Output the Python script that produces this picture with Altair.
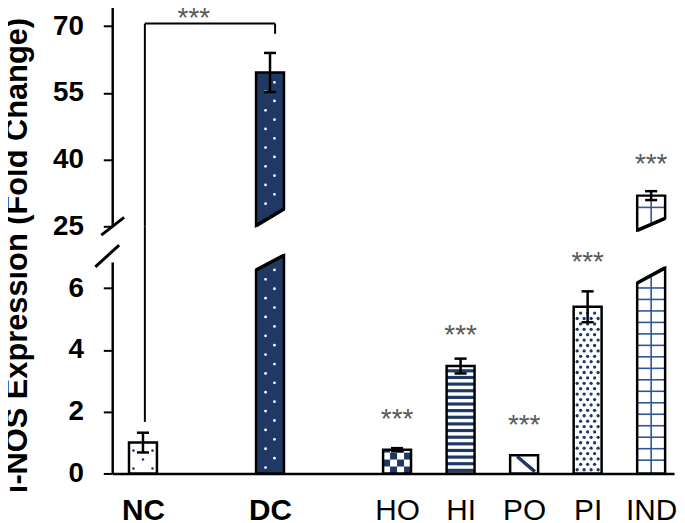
import altair as alt
import pandas as pd
import numpy as np

# ---------------- data ----------------
groups = ["NC", "DC", "HO", "HI", "PO", "PI", "IND"]
slot = [0, 2, 4, 5, 6, 7, 8]            # category slot on the x axis
mean = [1.00, 59.6, 0.77, 3.48, 0.59, 5.40, 31.9]
err = [0.32, 4.4, 0.05, 0.24, 0.0, 0.50, 1.0]
star_group = ["HO", "HI", "PO", "PI", "IND"]
star_y = [1.48, 4.18, 1.29, 6.56, 37.1]
sig_label = "***"
# NC vs DC bracket
bracket_top = 70.6
bracket_left_end = 1.67
bracket_right_end = 68.3
bracket_star_x = 0.8
bracket_star_y = 69.8
# broken axis
low_ticks = [0, 2, 4, 6]
up_ticks = [25, 40, 55, 70]
low_dom = [0, 6.85]
up_dom = [25, 74.8]
broken = ["DC", "IND"]
cut_low = {"DC": (6.59, 7.07), "IND": (6.17, 6.66)}   # slanted top of lower piece (left, right)
cut_up = {"DC": (25.1, 28.9), "IND": (24.1, 26.8)}    # slanted bottom of upper piece
y_title = "i-NOS Expression (Fold Change)"

# ---------------- style ----------------
NAVY = "#1F3864"
LINE_BLUE = "#2F5597"
STAR = "#595959"
FONT = "Liberation Sans"
HALF = 0.22
CAP = 0.095
W, H_UP, H_LOW, GAP = 566, 223, 213, 36

pos = dict(zip(groups, slot))
val = dict(zip(groups, mean))
er = dict(zip(groups, err))

xscale = alt.Scale(domain=[-0.484, 8.36], nice=False, zero=False)
ylow = alt.Scale(domain=low_dom, nice=False, zero=False)
yup = alt.Scale(domain=up_dom, nice=False, zero=False)

lab_arr = [""] * (max(slot) + 1)
for g, s in zip(groups, slot):
    lab_arr[s] = g
label_expr = "[" + ",".join(f"'{t}'" for t in lab_arr) + "][datum.value]"

XAX_LOW = alt.Axis(values=slot, labelExpr=label_expr, ticks=False, labelFontSize=30,
                   labelFont=FONT, labelColor="black",
                   labelFontWeight={"condition": {"test": "datum.value <= 2", "value": "bold"}, "value": "normal"},
                   labelPadding=22, domainColor="black", domainWidth=2.5, grid=False, title=None,
                   labelFlush=False, labelOverlap=False)
YAX_LOW = alt.Axis(values=low_ticks, tickSize=9, tickWidth=2, tickColor="black", domainColor="black",
                   domainWidth=2.5, labelFontSize=28, labelFont=FONT, labelFontWeight="bold",
                   labelPadding=20, labelColor="black", grid=False, title=y_title,
                   titleFontSize=31, titleFont=FONT, titleFontWeight="bold", titleColor="black",
                   titleX=-86, titleY=-7, titleBaseline="alphabetic", titleAngle=270)
YAX_UP = alt.Axis(values=up_ticks, tickSize=9, tickWidth=2, tickColor="black", domainColor="black",
                  domainWidth=2.5, labelFontSize=28, labelFont=FONT, labelFontWeight="bold",
                  labelPadding=20, labelColor="black", grid=False, title=None)


def X(f, low):
    return alt.X(f"{f}:Q", scale=xscale, axis=XAX_LOW if low else None)


def Y(f, low):
    return alt.Y(f"{f}:Q", scale=ylow if low else yup, axis=YAX_LOW if low else YAX_UP)


def rules(df, low, color="black", width=2.5):
    return alt.Chart(df).mark_rule(color=color, strokeWidth=width).encode(
        x=X("x", low), x2="x2:Q", y=Y("y", low), y2="y2:Q")


def points(df, low, color, size):
    return alt.Chart(df).mark_circle(color=color, size=size, opacity=1).encode(
        x=X("x", low), y=Y("y", low))


# ---------------- lower panel ----------------
normal = [g for g in groups if g not in broken]
bars_low = pd.DataFrame({"g": normal,
                         "xl": [pos[g] - HALF for g in normal],
                         "xr": [pos[g] + HALF for g in normal],
                         "top": [val[g] for g in normal],
                         "base": [0.0] * len(normal)})
bar_fill_low = alt.Chart(bars_low).mark_bar(fill="white", strokeWidth=0).encode(
    x=X("xl", True), x2="xr:Q", y=Y("top", True), y2="base:Q")
bar_line_low = alt.Chart(bars_low).mark_bar(fill="transparent", stroke="black", strokeWidth=2.5).encode(
    x=X("xl", True), x2="xr:Q", y=Y("top", True), y2="base:Q")

trap_low_rows = []
for g in broken:
    fc = NAVY if g == "DC" else "white"
    trap_low_rows.append({"g": g, "x": pos[g] - HALF, "top": cut_low[g][0], "base": 0.0, "fill": fc})
    trap_low_rows.append({"g": g, "x": pos[g] + HALF, "top": cut_low[g][1], "base": 0.0, "fill": fc})
trap_low = pd.DataFrame(trap_low_rows)
trap_fill_low = alt.Chart(trap_low).mark_area(strokeWidth=0, opacity=1).encode(
    x=X("x", True), y=Y("top", True), y2="base:Q", fill=alt.Fill("fill:N", scale=None), detail="g:N")
trap_line_low = alt.Chart(trap_low).mark_area(fillOpacity=0, stroke="black", strokeWidth=2.5).encode(
    x=X("x", True), y=Y("top", True), y2="base:Q", detail="g:N")
slant_low = pd.DataFrame({"x": [pos[g] - HALF for g in broken], "x2": [pos[g] + HALF for g in broken],
                          "y": [cut_low[g][0] for g in broken], "y2": [cut_low[g][1] for g in broken]})

# patterns (texture only)
p = pos["NC"]
nc_dots = pd.DataFrame({"x": [p - 0.15, p + 0.15, p, p - 0.15, p + 0.15],
                        "y": [0.16, 0.16, 0.45, 0.74, 0.74]})
p = pos["DC"]
k = np.arange(0, 22)
dc_dots_low = pd.DataFrame({"x": np.where(k % 2 == 0, p - 0.07, p + 0.07), "y": 0.19 + k * 0.305})
p = pos["HO"]
cells = []
for i in range(4):
    for j in range(4):
        y0 = j * 0.225
        if y0 >= val["HO"]:
            continue
        if (i + j) % 2 == 1:
            cells.append({"x": p - HALF + i * 0.11, "x2": p - HALF + (i + 1) * 0.11,
                          "y": y0, "y2": min(val["HO"], y0 + 0.225)})
ho_cells = pd.DataFrame(cells)
ho_layer = alt.Chart(ho_cells).mark_rect(color=NAVY).encode(
    x=X("x", True), x2="x2:Q", y=Y("y", True), y2="y2:Q")
p = pos["HI"]
ys = np.arange(0.1, val["HI"] - 0.1, 0.215)
hi_lines = pd.DataFrame({"x": p - HALF, "x2": p + HALF, "y": ys, "y2": ys})
p = pos["PO"]
po_line = pd.DataFrame({"x": [p - 0.11], "x2": [p + 0.17], "y": [0.55], "y2": [0.06]})
p = pos["PI"]
pi_pts = []
r = 0
for yy in np.arange(0.12, val["PI"] - 0.08, 0.175):
    offs = [-0.165, -0.055, 0.055, 0.165] if r % 2 == 0 else [-0.11, 0.0, 0.11]
    for o in offs:
        pi_pts.append({"x": p + o, "y": yy})
    r += 1
pi_dots = pd.DataFrame(pi_pts)
p = pos["IND"]
ys = 0.43 + np.arange(0, 16) * 0.372
ind_grid_low = pd.concat([
    pd.DataFrame({"x": p - HALF, "x2": p + HALF, "y": ys, "y2": ys}),
    pd.DataFrame({"x": [p], "x2": [p], "y": [0.0], "y2": [sum(cut_low["IND"]) / 2]})])


# error bars
def err_frames(gs):
    v = pd.DataFrame({"x": [pos[g] for g in gs], "x2": [pos[g] for g in gs],
                      "y": [val[g] - er[g] for g in gs], "y2": [val[g] + er[g] for g in gs]})
    ct = pd.DataFrame({"x": [pos[g] - CAP for g in gs], "x2": [pos[g] + CAP for g in gs],
                       "y": [val[g] + er[g] for g in gs], "y2": [val[g] + er[g] for g in gs]})
    cb = pd.DataFrame({"x": [pos[g] - CAP for g in gs], "x2": [pos[g] + CAP for g in gs],
                       "y": [val[g] - er[g] for g in gs], "y2": [val[g] - er[g] for g in gs]})
    return pd.concat([v, ct, cb])


err_low = err_frames([g for g in normal if er[g] > 0])
err_up = err_frames(broken)

stars = pd.DataFrame({"x": [pos[g] for g in star_group], "y": star_y, "t": sig_label})
stars_low = stars[stars["y"] <= low_dom[1]]
stars_up = pd.concat([stars[stars["y"] > low_dom[1]],
                      pd.DataFrame({"x": [bracket_star_x], "y": [bracket_star_y], "t": [sig_label]})])


def star_layer(df, low):
    return alt.Chart(df).mark_text(font=FONT, fontSize=28, color=STAR, baseline="alphabetic",
                                   align="center").encode(x=X("x", low), y=Y("y", low), text="t:N")


gap_top = low_dom[1] + GAP / (H_LOW / (low_dom[1] - low_dom[0]))
bracket_low = pd.DataFrame({"x": [0.03], "x2": [0.03], "y": [bracket_left_end], "y2": [gap_top]})
break_low = pd.DataFrame({"x": [-0.75], "x2": [-0.375], "y": [6.69], "y2": [7.40]})

lower = alt.layer(
    bar_fill_low, trap_fill_low,
    points(nc_dots, True, NAVY, 7),
    points(dc_dots_low, True, "white", 8),
    ho_layer,
    rules(hi_lines, True, NAVY, 3.2),
    rules(po_line, True, NAVY, 3.5),
    points(pi_dots, True, NAVY, 11),
    rules(ind_grid_low, True, LINE_BLUE, 1.6),
    bar_line_low, trap_line_low,
    rules(slant_low, True, "black", 3.5),
    rules(err_low, True, "black", 2.5),
    star_layer(stars_low, True),
    rules(bracket_low, True, "black", 2),
    rules(break_low, True, "black", 3),
).properties(width=W, height=H_LOW)

# ---------------- upper panel ----------------
trap_up_rows = []
for g in broken:
    fc = NAVY if g == "DC" else "white"
    trap_up_rows.append({"g": g, "x": pos[g] - HALF, "top": val[g], "base": cut_up[g][0], "fill": fc})
    trap_up_rows.append({"g": g, "x": pos[g] + HALF, "top": val[g], "base": cut_up[g][1], "fill": fc})
trap_up = pd.DataFrame(trap_up_rows)
trap_fill_up = alt.Chart(trap_up).mark_area(strokeWidth=0, opacity=1).encode(
    x=X("x", False), y=Y("top", False), y2="base:Q", fill=alt.Fill("fill:N", scale=None), detail="g:N")
trap_line_up = alt.Chart(trap_up).mark_area(fillOpacity=0, stroke="black", strokeWidth=2.5).encode(
    x=X("x", False), y=Y("top", False), y2="base:Q", detail="g:N")
slant_up = pd.DataFrame({"x": [pos[g] - HALF for g in broken], "x2": [pos[g] + HALF for g in broken],
                         "y": [cut_up[g][0] for g in broken], "y2": [cut_up[g][1] for g in broken]})
p = pos["DC"]
k = np.arange(0, 14)
dc_dots_up = pd.DataFrame({"x": np.where(k % 2 == 0, p - 0.07, p + 0.07), "y": 30.1 + k * 2.1})
p = pos["IND"]
ind_grid_up = pd.DataFrame({"x": [p - HALF, p], "x2": [p + HALF, p],
                            "y": [29.25, sum(cut_up["IND"]) / 2], "y2": [29.25, val["IND"]]})
bracket_up = pd.DataFrame({"x": [0.03, 0.03, 2.08], "x2": [2.08, 0.03, 2.08],
                           "y": [bracket_top, bracket_top, bracket_top],
                           "y2": [bracket_top, up_dom[0], bracket_right_end]})
break_up = pd.DataFrame({"x": [-0.656], "x2": [-0.297], "y": [23.0], "y2": [27.0]})

upper = alt.layer(
    trap_fill_up,
    points(dc_dots_up, False, "white", 8),
    rules(ind_grid_up, False, LINE_BLUE, 1.6),
    trap_line_up,
    rules(slant_up, False, "black", 3.5),
    rules(err_up, False, "black", 2.5),
    star_layer(stars_up, False),
    rules(bracket_up, False, "black", 2),
    rules(break_up, False, "black", 3),
).properties(width=W, height=H_UP)

chart = alt.vconcat(upper, lower, spacing=GAP, bounds="flush").resolve_scale(
    y="independent"
).properties(
    padding={"left": -7, "top": -5, "right": 0, "bottom": -4},
    background="white",
).configure_view(stroke=None)

chart.save("out.html", embed_options={"renderer": "svg", "actions": False})
